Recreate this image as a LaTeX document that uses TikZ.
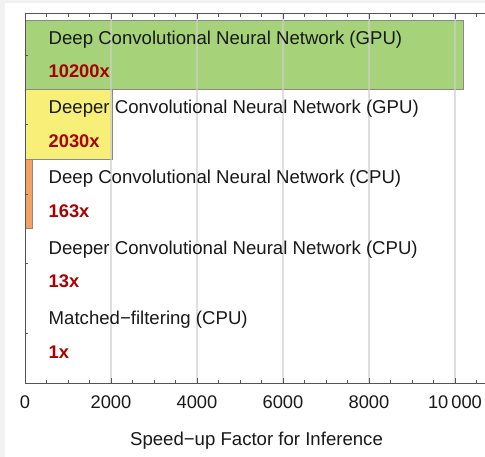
\documentclass[tikz,border=0pt]{standalone}
\usepackage{fontspec}
\setmainfont{Liberation Sans}
\definecolor{barGreen}{HTML}{A6D27A}
\definecolor{barYellow}{HTML}{F7EF78}
\definecolor{barOrange}{HTML}{F4A261}
\definecolor{barEdge}{HTML}{8A8A8A}
\definecolor{axisCol}{HTML}{555555}
\definecolor{gridCol}{HTML}{CFCFCF}
\definecolor{numRed}{HTML}{AA0000}
\definecolor{edgeBg}{HTML}{F2F2F2}
\begin{document}
\begin{tikzpicture}[x=1pt,y=-1pt,
  bar/.style={draw=barEdge,line width=1pt},
  gridline/.style={draw=gridCol,line width=1.1pt,opacity=0.65},
  axisline/.style={draw=axisCol,line width=1pt},
  tickmark/.style={draw=axisCol,line width=0.9pt},
  lab/.style={anchor=base west,inner sep=0pt,font=\fontsize{18.6}{21}\selectfont,text=black!90},
  num/.style={anchor=base west,inner sep=0pt,font=\fontsize{18.3}{21}\selectfont\bfseries,text=numRed},
  ticklab/.style={anchor=base,inner sep=0pt,font=\fontsize{18.3}{21}\selectfont,text=black!90}]
\useasboundingbox (0,0) rectangle (485,457);
\fill[edgeBg] (0,0) rectangle (485,457);
\fill[white] (5,3) rectangle (485,457);
% bars (x = 25 + 0.043 v)
\draw[bar,fill=barGreen] (25,20.7) rectangle (463.6,89.3);
\draw[bar,fill=barYellow] (25,89.3) rectangle (112.3,159.3);
\draw[bar,fill=barOrange] (25,160) rectangle (32,229);
\draw[bar,fill=barOrange] (25,229.5) rectangle (25.6,298.5);
% grid
\foreach \gx in {111,197,283,369,455} \draw[gridline] (\gx,14) -- (\gx,383);
% axes
\draw[axisline] (485,14) -- (25,14) -- (25,383) -- (485,383);
\foreach \i in {1,...,21} {
  \pgfmathsetmacro{\tx}{25+21.5*\i}
  \draw[tickmark] (\tx,14) -- (\tx,17);
  \draw[tickmark] (\tx,383) -- (\tx,380);
}
\foreach \i in {1,...,5} {
  \pgfmathsetmacro{\tx}{25+86*\i}
  \draw[tickmark] (\tx,14) -- (\tx,19.5);
  \draw[tickmark] (\tx,383) -- (\tx,377.5);
}
\foreach \ty in {55,124.5,194,263.5,333} \draw[tickmark] (25,\ty) -- (27.5,\ty);
% labels
\node[lab] (l1) at (48.5,44.5) {Deep Convolutional Neural Network (GPU)};
\node[num] (n1) at (48.5,77.5) {10200x};
\node[lab] (l2) at (48.5,113.8) {Deeper Convolutional Neural Network (GPU)};
\node[num] (n2) at (48.5,147.8) {2030x};
\node[lab] (l3) at (48.5,183.2) {Deep Convolutional Neural Network (CPU)};
\node[num] (n3) at (48.5,217.5) {163x};
\node[lab] (l4) at (48.5,254.2) {Deeper Convolutional Neural Network (CPU)};
\node[num] (n4) at (48.5,287.2) {13x};
\node[lab] (l5) at (48.5,324.8) {Matched−filtering (CPU)};
\node[num] (n5) at (48.5,358.2) {1x};
% tick labels
\node[ticklab] (t0) at (25,408.2) {0};
\node[ticklab] (t1) at (111,408.2) {2000};
\node[ticklab] (t2) at (197,408.2) {4000};
\node[ticklab] (t3) at (283,408.2) {6000};
\node[ticklab] (t4) at (369,408.2) {8000};
\node[ticklab] (t5) at (455,408.2) {10\kern3pt000};
\node[ticklab,font=\fontsize{18.6}{21}\selectfont] (xl) at (256.5,445.7) {Speed−up Factor for Inference};
\end{tikzpicture}
\end{document}
